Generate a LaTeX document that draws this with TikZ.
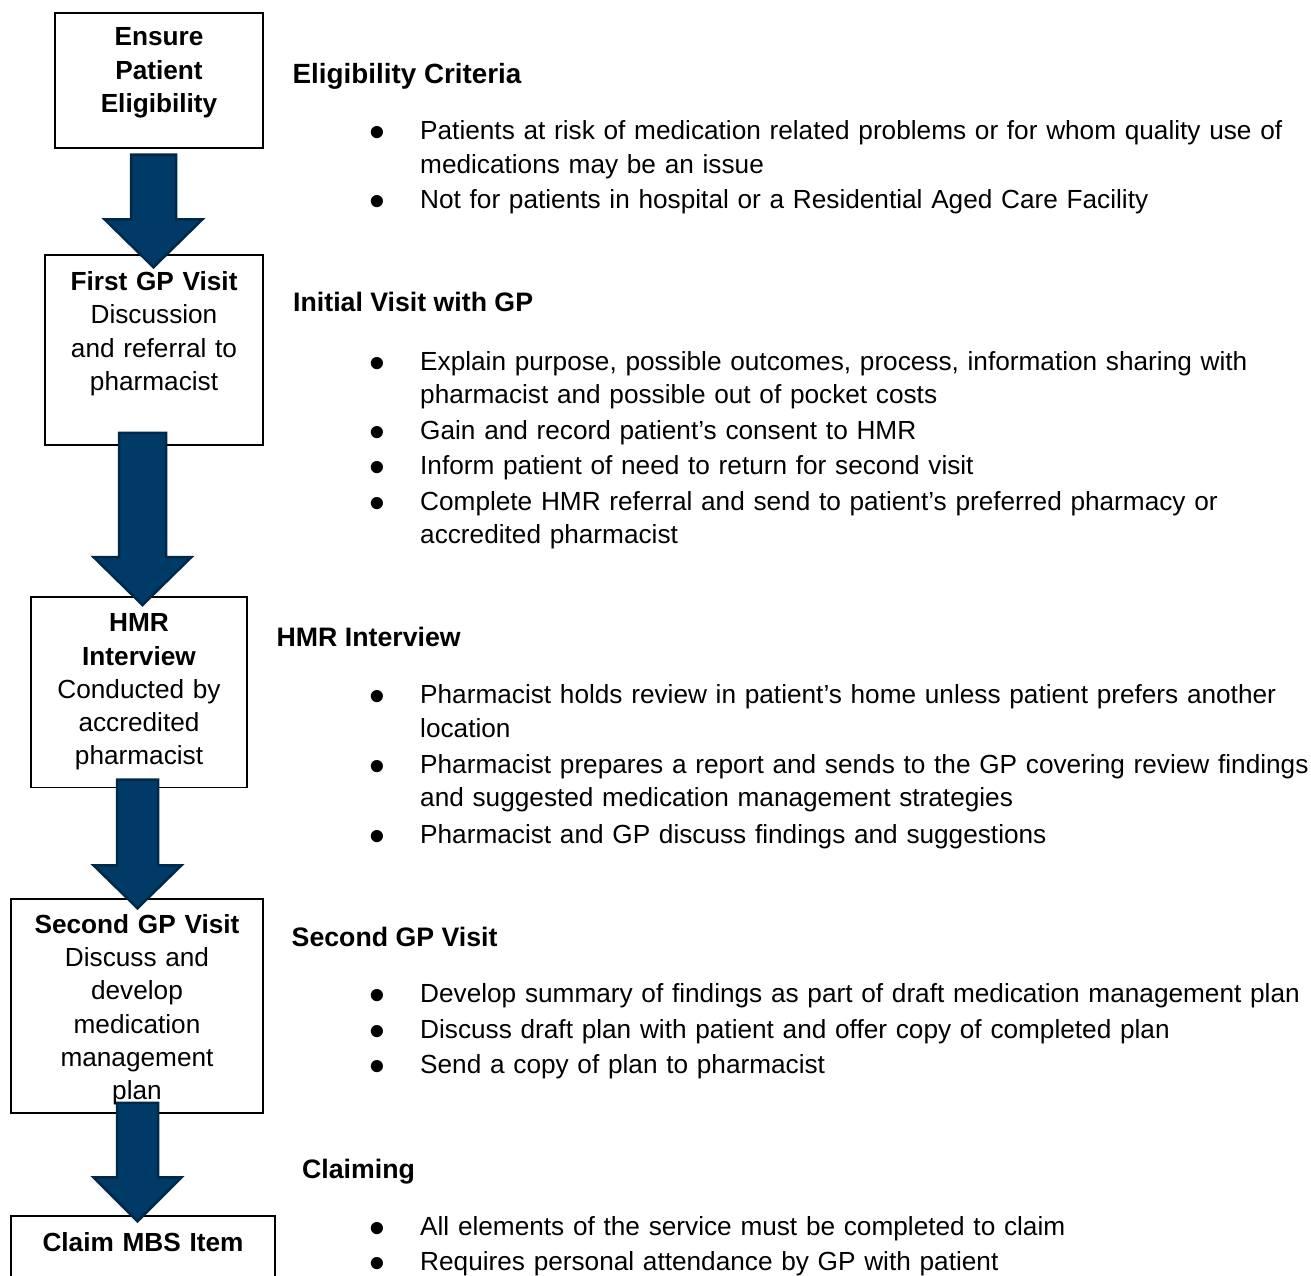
\documentclass[tikz,border=0pt]{standalone}
\usepackage{fontspec}
\setmainfont{Liberation Sans}
\usetikzlibrary{calc}
\hyphenpenalty=10000
\exhyphenpenalty=10000

\definecolor{arrowfill}{RGB}{0,59,103}
\definecolor{arrowedge}{RGB}{0,40,72}

\tikzset{
  x=1pt, y=-1pt,
  stepbox/.style={draw=black, line width=1.5pt, fill=white, inner sep=0pt},
  boxtext/.style={inner sep=0pt, anchor=base, align=center, text width=250pt,
    font=\fontsize{26.2}{33.3}\selectfont},
  heading/.style={inner sep=0pt, anchor=base west, font=\bfseries\fontsize{26.7}{32}\selectfont},
  item/.style={inner sep=0pt, anchor=base west, align=left, text width=930pt,
    font=\fontsize{26.2}{33.8}\selectfont},
  blockarrow/.style={fill=arrowfill, draw=arrowedge, line width=2.5pt, line join=miter}
}

% bullet hung to the left of the item text
\newcommand\bul{\llap{\smash{\makebox[0pt][c]{\raisebox{-8pt}{\fontsize{45}{45}\selectfont\textbullet}}}\hspace{42.5pt}}}

% thick downward block arrow: tail, tip, half shaft width, half head width, head length
\newcommand\bigarrow[5]{%
  \draw[blockarrow] let \p1=#1, \p2=#2 in
    (\x2-#3,\y1) -- (\x2+#3,\y1) -- (\x2+#3,\y2+#5) -- (\x2+#4,\y2+#5)
    -- (\x2,\y2) -- (\x2-#4,\y2+#5) -- (\x2-#3,\y2+#5) -- cycle;}

\begin{document}
\begin{tikzpicture}
\useasboundingbox (0,0) rectangle (1311,1276);
\clip (0,0) rectangle (1311,1276);

% process boxes
\node[stepbox, minimum width=208pt, minimum height=135pt] (b1) at (159,80.5) {};
\node[stepbox, minimum width=218pt, minimum height=190pt] (b2) at (154,350) {};
\node[stepbox, minimum width=216pt, minimum height=190.5pt] (b3) at (139,692) {};
\node[stepbox, minimum width=252pt, minimum height=214pt] (b4) at (137,1006) {};
\node[stepbox, minimum width=264pt, minimum height=84pt] (b5) at (143,1258) {};

\node[boxtext] (t1) at (159,46) {\textbf{Ensure}\\\textbf{Patient}\\\textbf{Eligibility}};
\node[boxtext] (t2) at (154,290.5) {\textbf{First GP Visit}\\Discussion\\and referral to\\pharmacist};
\node[boxtext] (t3) at (139,631.7) {\textbf{HMR}\\\textbf{Interview}\\Conducted by\\accredited\\pharmacist};
\node[boxtext] (t4) at (137,933.3) {\textbf{Second GP Visit}\\Discuss and\\develop\\medication\\management\\plan};
\node[boxtext] (t5) at (143,1251) {\textbf{Claim MBS Item}};

% arrows between the steps
\bigarrow{($(b1.south)+(-5.5,6)$)}{($(b2.north)+(-0.5,13)$)}{22.5pt}{49pt}{48pt}
\bigarrow{($(b2.south)+(-11.5,-13)$)}{($(b3.north)+(3.5,9)$)}{23.5pt}{49pt}{48pt}
\bigarrow{($(b3.south)+(-1.5,-8.5)$)}{($(b4.north)+(0.5,10)$)}{20.5pt}{44pt}{43pt}
\bigarrow{($(b4.south)+(0.5,-11)$)}{($(b5.north)+(-5.5,6)$)}{20.5pt}{44pt}{44pt}

% Eligibility criteria
\node[heading, font=\bfseries\fontsize{27.8}{32}\selectfont] (h1) at (292.5,83.3) {Eligibility Criteria};
\node[item] (i11) at (420,140) {\bul Patients at risk of medication related problems or for whom quality use of\\medications may be an issue};
\node[item] (i12) at (420,208.5) {\bul Not for patients in hospital or a Residential Aged Care Facility};

% Initial visit
\node[heading] (h2) at (293,311.7) {Initial Visit with GP};
\node[item] (i21) at (420,370) {\bul Explain purpose, possible outcomes, process, information sharing with\\pharmacist and possible out of pocket costs};
\node[item] (i22) at (420,439) {\bul Gain and record patient’s consent to HMR};
\node[item] (i23) at (420,474) {\bul Inform patient of need to return for second visit};
\node[item] (i24) at (420,510) {\bul Complete HMR referral and send to patient’s preferred pharmacy or\\accredited pharmacist};

% HMR interview
\node[heading] (h3) at (276.5,646.7) {HMR Interview};
\node[item] (i31) at (420,703.5) {\bul Pharmacist holds review in patient’s home unless patient prefers another\\location};
\node[item] (i32) at (420,773) {\bul Pharmacist prepares a report and sends to the GP covering review findings\\and suggested medication management strategies};
\node[item] (i33) at (420,843) {\bul Pharmacist and GP discuss findings and suggestions};

% Second visit
\node[heading] (h4) at (291.5,946) {Second GP Visit};
\node[item] (i41) at (420,1002.5) {\bul Develop summary of findings as part of draft medication management plan};
\node[item] (i42) at (420,1038.5) {\bul Discuss draft plan with patient and offer copy of completed plan};
\node[item] (i43) at (420,1073.5) {\bul Send a copy of plan to pharmacist};

% Claiming
\node[heading] (h5) at (302,1178) {Claiming};
\node[item] (i51) at (420,1235) {\bul All elements of the service must be completed to claim};
\node[item] (i52) at (420,1270) {\bul Requires personal attendance by GP with patient};
\end{tikzpicture}
\end{document}
